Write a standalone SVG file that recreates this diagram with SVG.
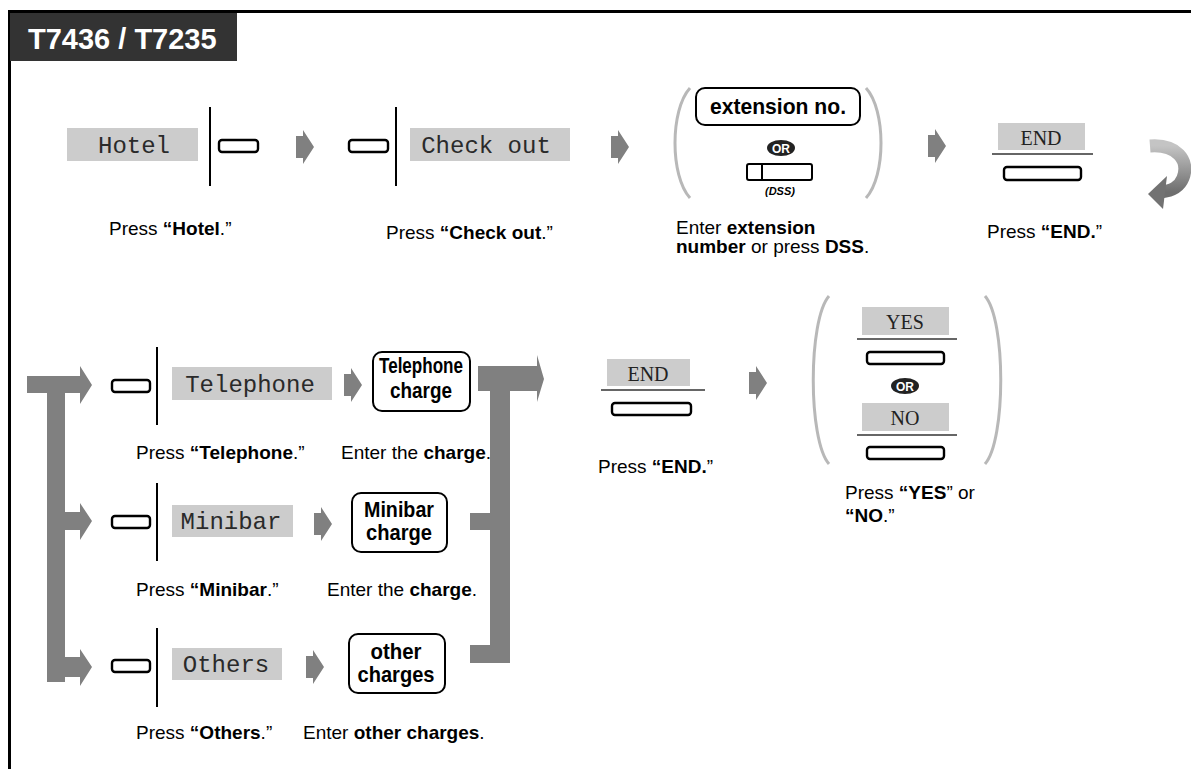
<svg xmlns="http://www.w3.org/2000/svg" width="1191" height="769" viewBox="0 0 1191 769">
<defs>
<style>
.lcd{fill:#cccccc}
.mono{font-family:"Liberation Mono","Courier New",monospace;font-size:24px;fill:#2a2a2a;text-anchor:middle}
.serif{font-family:"Liberation Serif","Times New Roman",serif;font-size:20px;fill:#222;text-anchor:middle}
.btn{fill:#fff;stroke:#000;stroke-width:2.4}
.vl{stroke:#000;stroke-width:2}
.hl{stroke:#333;stroke-width:1.5}
.lbl{font-family:"Liberation Sans",Arial,sans-serif;font-size:19px;fill:#000}
.b{font-weight:bold}
.key{fill:#fff;stroke:#000;stroke-width:2}
.keyt{font-family:"Liberation Sans",Arial,sans-serif;font-weight:bold;font-size:22px;fill:#000;text-anchor:middle}
.par{fill:none;stroke:#b8b8b8;stroke-width:3}
.ga{fill:#808080}
.ort{font-family:"Liberation Sans",Arial,sans-serif;font-weight:bold;font-size:12px;fill:#fff;text-anchor:middle}
</style>
<polygon id="arr" points="0,-11 7,-11 7,-17 18,0 7,17 7,11 0,11"/>
<linearGradient id="cg" x1="0" y1="0" x2="0" y2="1">
<stop offset="0" stop-color="#c4c4c4"/>
<stop offset="1" stop-color="#6e6e6e"/>
</linearGradient>
</defs>
<rect width="1191" height="769" fill="#fff"/>
<path d="M9.5,769 V11.5 H1191" fill="none" stroke="#000" stroke-width="3"/>
<g id="header">
<rect x="10" y="13" width="227" height="48" fill="#333"/>
<text x="28" y="49" font-family="Liberation Sans,Arial,sans-serif" font-weight="bold" font-size="29" fill="#fff">T7436 / T7235</text>
</g>

<g id="connectors" class="ga">
<use href="#arr" transform="translate(296,147)"/>
<use href="#arr" transform="translate(611,147)"/>
<use href="#arr" transform="translate(928,146)"/>
<use href="#arr" transform="translate(344,385)"/>
<use href="#arr" transform="translate(314,524)"/>
<use href="#arr" transform="translate(306,667)"/>
<use href="#arr" transform="translate(749,383)"/>
<path d="M27,376 H80 V366 L92,385 L80,404 V393 H65 V512 H80 V503 L92,521 L80,540 V530 H65 V657 H80 V649 L92,667 L80,686 V677 H65 V682 H47 V393 H27 Z"/>
<path d="M478,366 H537 V355 L544,379 L537,402 V391 H510 V663 H470 V645 H490 V530 H470 V513 H490 V391 H478 Z"/>
<path d="M1150,146 C1176,144 1190,160 1183,178 C1179,188 1171,191 1161,192" fill="none" stroke="url(#cg)" stroke-width="13"/>
<polygon points="1148,194 1167,176 1163,209" fill="#727272"/>
</g>

<g id="hotel">
<rect class="lcd" x="67" y="128" width="131" height="33"/>
<text class="mono" x="134" y="153">Hotel</text>
<line class="vl" x1="210" y1="107" x2="210" y2="186"/>
<rect class="btn" x="219" y="140" width="39" height="12" rx="3"/>
<text class="lbl" x="109" y="235" font-size="20">Press <tspan class="b">“Hotel</tspan>.”</text>
</g>

<g id="checkout">
<rect class="btn" x="349" y="140" width="39" height="12" rx="3"/>
<line class="vl" x1="396" y1="107" x2="396" y2="186"/>
<rect class="lcd" x="410" y="128" width="160" height="33"/>
<text class="mono" x="486" y="153">Check out</text>
<text class="lbl" x="386" y="239" font-size="20">Press <tspan class="b">“Check out</tspan>.”</text>
</g>

<g id="extension">
<path class="par" d="M690,88 C670,110 670,176 690,198"/>
<path class="par" d="M866,88 C886,110 886,176 866,198"/>
<rect class="key" x="696" y="88" width="164" height="37" rx="9"/>
<text class="keyt" x="778" y="114" font-size="21" textLength="136" lengthAdjust="spacingAndGlyphs">extension no.</text>
<ellipse cx="781" cy="148" rx="14" ry="8" fill="#222"/>
<text class="ort" x="781" y="152.5">OR</text>
<rect class="key" x="747" y="164" width="65" height="16" rx="2"/>
<line class="vl" x1="762" y1="164" x2="762" y2="180"/>
<text x="780" y="195" font-family="Liberation Sans,Arial,sans-serif" font-weight="bold" font-style="italic" font-size="11" text-anchor="middle">(DSS)</text>
<text class="lbl" x="676" y="234">Enter <tspan class="b">extension</tspan></text>
<text class="lbl" x="676" y="253"><tspan class="b">number</tspan> or press <tspan class="b">DSS</tspan>.</text>
</g>

<g id="end1">
<rect class="lcd" x="998" y="123" width="87" height="27"/>
<text class="serif" x="1041" y="145">END</text>
<line class="hl" x1="992" y1="154" x2="1093" y2="154"/>
<rect class="btn" x="1004" y="167" width="77" height="13" rx="3"/>
<text class="lbl" x="987" y="238">Press <tspan class="b">“END.</tspan>”</text>
</g>

<g id="telephone">
<rect class="btn" x="112" y="380" width="38" height="12" rx="3"/>
<line class="vl" x1="157" y1="347" x2="157" y2="425"/>
<rect class="lcd" x="172" y="367" width="160" height="33"/>
<text class="mono" x="250" y="392">Telephone</text>
<text class="lbl" x="136" y="459">Press <tspan class="b">“Telephone</tspan>.”</text>
</g>
<g id="telephone-charge">
<rect class="key" x="373" y="352" width="97" height="59" rx="9"/>
<text class="keyt" x="421" y="373" font-size="19" textLength="84" lengthAdjust="spacingAndGlyphs">Telephone</text>
<text class="keyt" x="421" y="398" font-size="19" textLength="62" lengthAdjust="spacingAndGlyphs">charge</text>
<text class="lbl" x="341" y="459">Enter the <tspan class="b">charge</tspan>.</text>
</g>

<g id="minibar">
<rect class="btn" x="112" y="516" width="38" height="12" rx="3"/>
<line class="vl" x1="157" y1="483" x2="157" y2="561"/>
<rect class="lcd" x="172" y="505" width="121" height="32"/>
<text class="mono" x="231" y="529">Minibar</text>
<text class="lbl" x="136" y="596">Press <tspan class="b">“Minibar</tspan>.”</text>
</g>
<g id="minibar-charge">
<rect class="key" x="352" y="493" width="95" height="59" rx="9"/>
<text class="keyt" x="399" y="517" textLength="70" lengthAdjust="spacingAndGlyphs">Minibar</text>
<text class="keyt" x="399" y="540" textLength="66" lengthAdjust="spacingAndGlyphs">charge</text>
<text class="lbl" x="327" y="596">Enter the <tspan class="b">charge</tspan>.</text>
</g>

<g id="others">
<rect class="btn" x="112" y="660" width="38" height="12" rx="3"/>
<line class="vl" x1="157" y1="628" x2="157" y2="707"/>
<rect class="lcd" x="172" y="648" width="110" height="32"/>
<text class="mono" x="226" y="672">Others</text>
<text class="lbl" x="136" y="739">Press <tspan class="b">“Others</tspan>.”</text>
</g>
<g id="other-charges">
<rect class="key" x="349" y="634" width="96" height="59" rx="9"/>
<text class="keyt" x="396" y="659" textLength="51" lengthAdjust="spacingAndGlyphs">other</text>
<text class="keyt" x="396" y="682" textLength="77" lengthAdjust="spacingAndGlyphs">charges</text>
<text class="lbl" x="303" y="739">Enter <tspan class="b">other charges</tspan>.</text>
</g>

<g id="end2">
<rect class="lcd" x="607" y="359" width="83" height="27"/>
<text class="serif" x="648" y="381">END</text>
<line class="hl" x1="601" y1="390" x2="705" y2="390"/>
<rect class="btn" x="612" y="403" width="79" height="12" rx="3"/>
<text class="lbl" x="598" y="473">Press <tspan class="b">“END.</tspan>”</text>
</g>

<g id="yes-no">
<path class="par" d="M829,296 C808,320 808,440 829,464"/>
<path class="par" d="M985,296 C1006,320 1006,440 985,464"/>
<rect class="lcd" x="862" y="307" width="87" height="28"/>
<text class="serif" x="905" y="329">YES</text>
<line class="hl" x1="857" y1="339" x2="957" y2="339"/>
<rect class="btn" x="867" y="352" width="77" height="12" rx="3"/>
<ellipse cx="905" cy="386" rx="14" ry="8" fill="#222"/>
<text class="ort" x="905" y="390.5">OR</text>
<rect class="lcd" x="862" y="403" width="87" height="28"/>
<text class="serif" x="905" y="425">NO</text>
<line class="hl" x1="857" y1="435" x2="957" y2="435"/>
<rect class="btn" x="867" y="447" width="77" height="12" rx="3"/>
<text class="lbl" x="845" y="499">Press <tspan class="b">“YES</tspan>” or</text>
<text class="lbl" x="845" y="522"><tspan class="b">“NO</tspan>.”</text>
</g>
</svg>
